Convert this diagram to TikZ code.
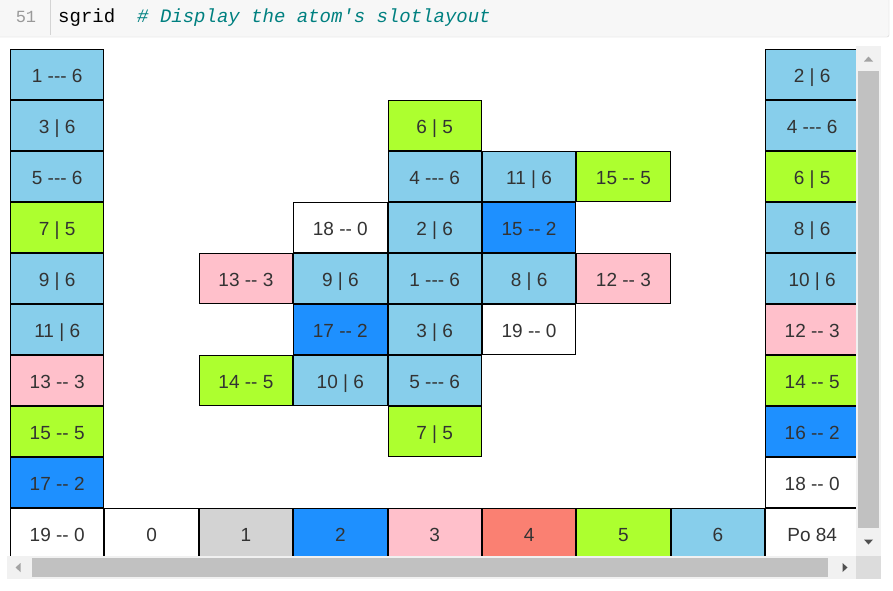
\documentclass[tikz,border=0pt]{standalone}
\usepackage{fontspec}
\setmainfont{Liberation Sans}[Ligatures=TeXOff]
\newfontfamily\codefont{Liberation Mono}[Ligatures=TeXOff]
\definecolor{csky}{HTML}{87CEEB}
\definecolor{cgreen}{HTML}{ADFF2F}
\definecolor{cdodger}{HTML}{1E90FF}
\definecolor{cpink}{HTML}{FFC0CB}
\definecolor{clgray}{HTML}{D3D3D3}
\definecolor{csalmon}{HTML}{FA8072}
\definecolor{cwhite}{HTML}{FFFFFF}
\definecolor{celltxt}{HTML}{333333}
\definecolor{hdrbg}{HTML}{F7F7F7}
\definecolor{hdrline}{HTML}{D4D4D4}
\definecolor{lnum}{HTML}{999999}
\definecolor{cmt}{HTML}{008080}
\definecolor{sbtrack}{HTML}{F1F1F1}
\definecolor{sbthumb}{HTML}{C1C1C1}
\definecolor{sbcorner}{HTML}{DCDCDC}
\definecolor{sboff}{HTML}{A3A3A3}
\definecolor{sbon}{HTML}{505050}
\newcommand\gcell[5]{%
  \pgfmathsetmacro\gx{10+#1*94.375+47.1875}%
  \pgfmathsetmacro\gy{49+#2*51+25.5}%
  \node[cellbox, fill=#3] (#5) at (\gx,\gy) {};%
  \node[celltext] (#5-t) at (\gx,\gy+1.3) {#4};%
}
\begin{document}
\begin{tikzpicture}[x=1pt,y=-1pt,
  cellbox/.style={draw=black, line width=1pt, minimum width=93.375pt, minimum height=50pt, inner sep=0pt, outer sep=0pt},
  celltext/.style={text=celltxt, font=\fontsize{19}{22}\selectfont, text height=13.6pt, text depth=0pt, inner sep=0pt},
  codetxt/.style={font=\codefont\fontsize{19}{22}\selectfont, inner sep=0pt, anchor=base west}]
\useasboundingbox (0,0) rectangle (893,590);
\fill[white] (0,0) rectangle (893,590);
% header
\draw[fill=hdrbg, draw=hdrline, rounded corners=2pt] (-5,-5) rectangle (889,37);
\draw[hdrline] (50,-1) -- (50,35);
\node[font=\codefont\fontsize{17}{20}\selectfont, text=lnum, inner sep=0pt, anchor=base] (lineno) at (26,22) {51};
\node[codetxt] (code) at (58,22) {sgrid};
\node[codetxt, text=cmt, font=\codefont\itshape\fontsize{19}{22}\selectfont] (comment) at (137,22) {\# Display the atom's slotlayout};
% grid
\begin{scope}
\clip (0,40) rectangle (856,556);
% left column
\gcell{0}{0}{csky}{1 --- 6}{L0}
\gcell{0}{1}{csky}{3 | 6}{L1}
\gcell{0}{2}{csky}{5 --- 6}{L2}
\gcell{0}{3}{cgreen}{7 | 5}{L3}
\gcell{0}{4}{csky}{9 | 6}{L4}
\gcell{0}{5}{csky}{11 | 6}{L5}
\gcell{0}{6}{cpink}{13 -- 3}{L6}
\gcell{0}{7}{cgreen}{15 -- 5}{L7}
\gcell{0}{8}{cdodger}{17 -- 2}{L8}
\gcell{0}{9}{cwhite}{19 -- 0}{L9}
% right column
\gcell{8}{0}{csky}{2 | 6}{R0}
\gcell{8}{1}{csky}{4 --- 6}{R1}
\gcell{8}{2}{cgreen}{6 | 5}{R2}
\gcell{8}{3}{csky}{8 | 6}{R3}
\gcell{8}{4}{csky}{10 | 6}{R4}
\gcell{8}{5}{cpink}{12 -- 3}{R5}
\gcell{8}{6}{cgreen}{14 -- 5}{R6}
\gcell{8}{7}{cdodger}{16 -- 2}{R7}
\gcell{8}{8}{cwhite}{18 -- 0}{R8}
\gcell{8}{9}{cwhite}{Po 84}{R9}
% bottom row
\gcell{1}{9}{cwhite}{0}{B1}
\gcell{2}{9}{clgray}{1}{B2}
\gcell{3}{9}{cdodger}{2}{B3}
\gcell{4}{9}{cpink}{3}{B4}
\gcell{5}{9}{csalmon}{4}{B5}
\gcell{6}{9}{cgreen}{5}{B6}
\gcell{7}{9}{csky}{6}{B7}
% middle
\gcell{4}{1}{cgreen}{6 | 5}{M41}
\gcell{4}{2}{csky}{4 --- 6}{M42}
\gcell{5}{2}{csky}{11 | 6}{M52}
\gcell{6}{2}{cgreen}{15 -- 5}{M62}
\gcell{3}{3}{cwhite}{18 -- 0}{M33}
\gcell{4}{3}{csky}{2 | 6}{M43}
\gcell{5}{3}{cdodger}{15 -- 2}{M53}
\gcell{2}{4}{cpink}{13 -- 3}{M24}
\gcell{3}{4}{csky}{9 | 6}{M34}
\gcell{4}{4}{csky}{1 --- 6}{M44}
\gcell{5}{4}{csky}{8 | 6}{M54}
\gcell{6}{4}{cpink}{12 -- 3}{M64}
\gcell{3}{5}{cdodger}{17 -- 2}{M35}
\gcell{4}{5}{csky}{3 | 6}{M45}
\gcell{5}{5}{cwhite}{19 -- 0}{M55}
\gcell{2}{6}{cgreen}{14 -- 5}{M26}
\gcell{3}{6}{csky}{10 | 6}{M36}
\gcell{4}{6}{csky}{5 --- 6}{M46}
\gcell{4}{7}{cgreen}{7 | 5}{M47}
\end{scope}
% vertical scrollbar
\fill[sbtrack] (856,46) rectangle (881,556);
\fill[sbthumb] (858,71) rectangle (879,528);
\fill[sboff] (864,61.5) -- (873,61.5) -- (868.5,56.5) -- cycle;
\fill[sbon] (864,539.5) -- (873,539.5) -- (868.5,544.5) -- cycle;
% horizontal scrollbar
\fill[sbtrack] (7,556) rectangle (856,579);
\fill[sbthumb] (32,558) rectangle (828,577);
\fill[sboff] (20.5,563) -- (20.5,572) -- (15.5,567.5) -- cycle;
\fill[sbon] (842.5,563) -- (842.5,572) -- (847.5,567.5) -- cycle;
\fill[sbcorner] (856,556) rectangle (881,579);
\end{tikzpicture}
\end{document}
